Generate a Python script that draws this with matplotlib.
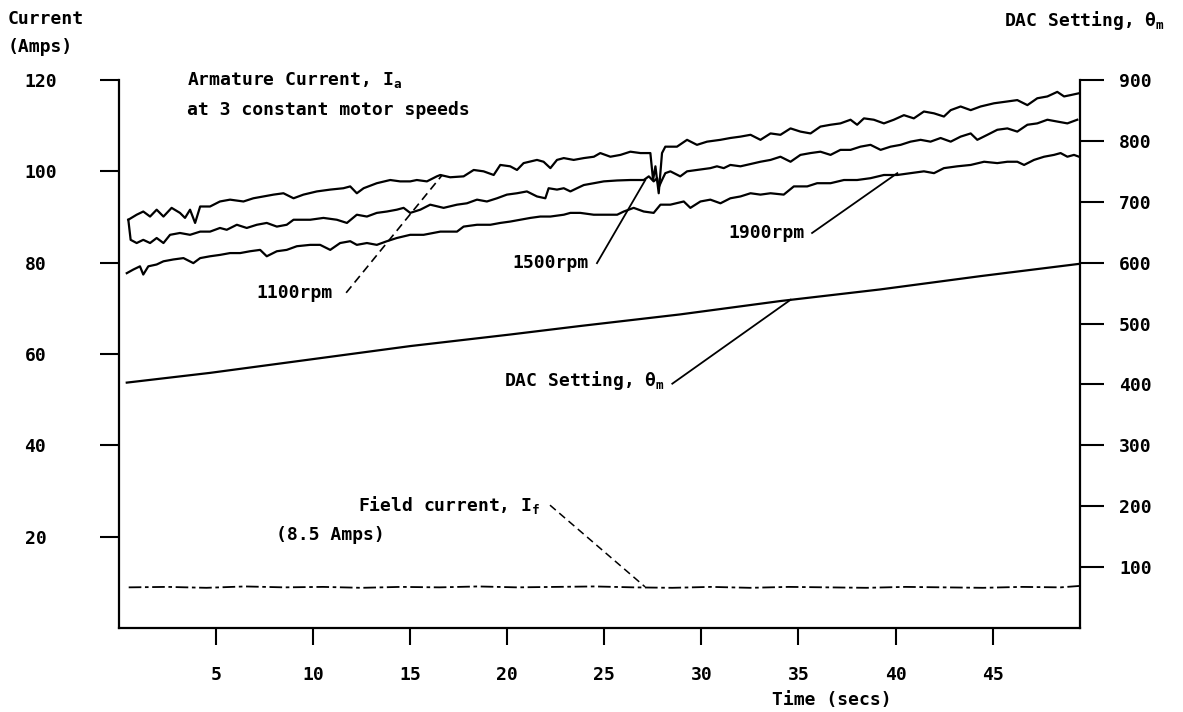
import matplotlib
matplotlib.use("Agg")
import matplotlib.pyplot as plt

plt.rcParams['font.family'] = ['DejaVu Sans Mono', 'DejaVu Sans']
plt.rcParams['font.weight'] = 'bold'
plt.rcParams['mathtext.default'] = 'regular'

# ---------------- data ----------------
x_ticks = [5, 10, 15, 20, 25, 30, 35, 40, 45]
y_ticks_left = [20, 40, 60, 80, 100, 120]
y_ticks_right = [100, 200, 300, 400, 500, 600, 700, 800, 900]

# Armature current at 1100 rpm (top curve)
t_1100 = [0.48, 0.91, 1.25, 1.6, 1.94, 2.29, 2.71, 3.14, 3.4, 3.66, 3.92, 4.18, 4.69, 5.2, 5.72,
          6.41, 6.92, 7.44, 7.96, 8.47, 8.99, 9.5, 10.19, 10.88, 11.56, 11.91, 12.25, 12.6, 13.28,
          13.97, 14.48, 15.0, 15.34, 15.86, 16.37,
          16.55, 17.06, 17.75, 18.27, 18.78, 19.3, 19.64, 20.15, 20.5, 20.84, 21.53, 21.87, 22.22,
          22.56, 22.91, 23.42, 23.94, 24.46, 24.79, 25.31, 25.83, 26.34, 26.86, 27.37, 27.51, 27.63,
          27.8, 27.97, 28.14, 28.74, 29.26, 29.77, 30.29, 30.98, 31.49, 32.01,
          32.53, 33.04, 33.56, 34.07, 34.59, 35.1, 35.62, 36.13, 36.65, 37.16, 37.68, 38.02, 38.37,
          38.88, 39.4, 39.91, 40.43, 40.94, 41.46, 41.98, 42.49, 42.84, 43.35, 43.87, 44.38, 45.07,
          45.76, 46.27, 46.79, 47.3, 47.82, 48.33, 48.68, 49.02, 49.45]
i_1100 = [89.4, 90.5, 91.2, 90.1, 91.6, 90.1, 92.0, 90.9, 89.8, 91.6, 88.7, 92.3, 92.3, 93.4, 93.8,
          93.4, 94.1, 94.5, 94.9, 95.2, 94.1, 94.9, 95.6, 96.0, 96.3, 96.7, 95.2, 96.3, 97.4,
          98.1, 97.8, 97.8, 98.1, 97.8, 98.9,
          99.2, 98.7, 98.9, 100.3, 100.0, 99.2, 101.4, 101.1, 100.3, 101.8, 102.5, 102.1, 100.7,
          102.5, 102.9, 102.5, 102.9, 103.2, 104.0, 103.2, 103.6, 104.3, 104.0, 104.0, 98.1, 101.1,
          95.2, 104.0, 105.4, 105.4, 106.9, 105.8, 106.5, 106.9, 107.3, 107.6,
          108.0, 106.9, 108.3, 108.0, 109.4, 108.7, 108.3, 109.8, 110.2, 110.5, 111.3, 110.2, 111.6,
          111.3, 110.5, 111.3, 112.3, 111.6, 113.1, 112.7, 112.0, 113.4, 114.2, 113.4, 114.2, 114.9,
          115.3, 115.6, 114.5, 116.0, 116.4, 117.4, 116.4, 116.7, 117.1]

# Armature current at 1500 rpm (middle curve)
t_1500 = [0.48, 0.6, 0.91, 1.25, 1.6, 1.94, 2.29, 2.63, 3.14, 3.66, 4.18, 4.69, 5.2, 5.55, 6.07,
          6.58, 7.1, 7.61, 8.13, 8.64, 8.99, 9.85, 10.53, 11.22, 11.74, 12.25, 12.77, 13.28, 13.8,
          14.31, 14.66, 15.0, 15.52, 16.03,
          16.72, 17.41, 17.92, 18.44, 18.95, 19.47, 19.98, 20.5, 21.01, 21.53, 21.96, 22.13, 22.56,
          22.91, 23.25, 23.59, 23.94, 24.46, 24.97, 25.66, 26.34, 27.03, 27.29, 27.54, 27.72, 27.8,
          27.97, 28.14, 28.4, 28.91, 29.26, 29.77, 30.46, 30.8, 31.15, 31.49, 32.01,
          32.53, 33.04, 33.56, 34.07, 34.59, 35.1, 35.62, 36.13, 36.65, 37.16, 37.68, 38.19, 38.71,
          39.23, 39.74, 40.26, 40.77, 41.29, 41.8, 42.32, 42.84, 43.35, 43.87, 44.21, 44.73, 45.24,
          45.76, 46.27, 46.79, 47.3, 47.82, 48.33, 48.85, 49.36]
i_1500 = [89.4, 85.0, 84.3, 85.0, 84.3, 85.4, 84.3, 86.1, 86.5, 86.1, 86.8, 86.8, 87.6, 87.2, 88.3,
          87.6, 88.3, 88.7, 87.9, 88.3, 89.4, 89.4, 89.8, 89.4, 88.7, 90.5, 90.1, 90.9, 91.2,
          91.6, 92.0, 90.9, 91.6, 92.7,
          92.0, 92.7, 93.0, 93.8, 93.4, 94.1, 94.9, 95.2, 95.6, 94.5, 94.1, 96.3, 96.0,
          96.3, 95.6, 96.3, 97.0, 97.4, 97.8, 98.0, 98.1, 98.1, 98.9, 97.8, 98.5, 96.5,
          98.1, 99.6, 100.0, 98.9, 100.0, 100.3, 100.7, 101.1, 100.7, 101.4, 101.1,
          101.6, 102.1, 102.5, 103.2, 102.1, 103.6, 104.0, 104.3, 103.6, 104.7, 104.7, 105.4, 105.8,
          104.7, 105.4, 105.8, 106.5, 106.9, 106.5, 107.3, 106.5, 107.6, 108.3, 106.9, 108.0, 109.1,
          109.4, 108.7, 110.2, 110.5, 111.3, 110.9, 110.5, 111.3]

# Armature current at 1900 rpm (bottom curve)
t_1900 = [0.4, 0.74, 1.08, 1.25, 1.51, 1.94, 2.29, 2.8, 3.32, 3.83, 4.18, 4.69, 5.2, 5.72, 6.24,
          6.75, 7.27, 7.61, 8.13, 8.64, 9.16, 9.85, 10.36, 10.88, 11.39, 11.91, 12.25, 12.77, 13.28,
          13.8, 14.31, 15.0, 15.69, 16.55,
          17.41, 17.75, 18.44, 19.13, 19.64, 20.15, 20.67, 21.19, 21.7, 22.22, 22.91, 23.25, 23.76,
          24.45, 24.97, 25.66, 26.0, 26.51, 27.03, 27.54, 27.89, 28.4, 29.09, 29.43, 29.95, 30.46,
          30.98, 31.49, 32.01,
          32.53, 33.04, 33.56, 34.24, 34.76, 35.45, 35.96, 36.65, 37.34, 38.02, 38.71, 39.4, 40.09,
          40.77, 41.46, 41.98, 42.49, 43.18, 43.87, 44.56, 45.24, 45.76, 46.27, 46.62, 47.13, 47.65,
          48.16, 48.5, 48.85, 49.19, 49.45]
i_1900 = [77.7, 78.5, 79.2, 77.4, 79.2, 79.6, 80.3, 80.7, 81.0, 79.9, 81.0, 81.4, 81.7, 82.1, 82.1,
          82.5, 82.8, 81.4, 82.5, 82.8, 83.6, 83.9, 83.9, 82.8, 84.3, 84.7, 83.9, 84.3, 83.9,
          84.7, 85.4, 86.1, 86.1, 86.8,
          86.8, 87.9, 88.3, 88.3, 88.7, 89.0, 89.4, 89.8, 90.1, 90.1, 90.5, 90.9, 90.9,
          90.5, 90.5, 90.5, 91.2, 92.0, 91.2, 90.9, 92.7, 92.7, 93.4, 92.0, 93.4, 93.8,
          93.0, 94.1, 94.5,
          95.2, 94.9, 95.2, 94.9, 96.7, 96.7, 97.4, 97.4, 98.1, 98.1, 98.5, 99.2, 99.2,
          99.6, 100.0, 99.6, 100.7, 101.1, 101.4, 102.1, 101.8, 102.1, 102.1, 101.4, 102.5, 103.2,
          103.6, 104.0, 103.2, 103.6, 103.2]

# DAC setting (right axis)
t_dac = [0.4, 4.69, 9.85, 15.0, 20.15, 23.76, 28.9, 34.07, 39.2, 44.4, 49.45]
dac = [403, 419, 441, 463, 482, 496, 515, 537, 556, 578, 598]

# Field current
t_field = [0.5, 2.5, 4.5, 6.5, 8.5, 10.5, 12.5, 14.5, 16.5, 18.5, 20.5, 22.5, 24.5, 26.5, 28.5,
           30.5, 32.5, 34.5, 36.5, 38.5, 40.5, 42.5, 44.5, 46.5, 48.5, 49.45]
i_field = [8.9, 9.0, 8.8, 9.1, 8.9, 9.0, 8.8, 9.0, 8.9, 9.1, 8.9, 9.0, 9.1, 8.9, 8.8,
           9.0, 8.8, 9.0, 8.9, 8.8, 9.0, 8.9, 8.8, 9.0, 8.9, 9.2]

# leader lines (t, current) start -> end
leader_1100 = [(11.7, 16.65), (73.4, 99.2)]
leader_1500 = [(24.62, 27.11), (79.9, 98.1)]
leader_1900 = [(35.7, 40.09), (86.5, 99.6)]
leader_dac = [(28.5, 34.6), (53.5, 71.9)]
leader_field = [(22.2, 27.1), (26.9, 9.0)]

# ---------------- figure ----------------
W, H = 1183, 712
fig = plt.figure(figsize=(W / 100, H / 100), dpi=100)
ax = fig.add_axes([119 / W, 1 - 628 / H, (1080 - 119) / W, (628 - 80) / H])
ax.set_xlim(0, 49.5)
ax.set_ylim(0, 120)
ax2 = ax.twinx()
ax2.set_ylim(0, 900)

lw = 1.6
k = 'black'
ax.plot(t_1100, i_1100, color=k, lw=lw)
ax.plot(t_1500, i_1500, color=k, lw=lw)
ax.plot(t_1900, i_1900, color=k, lw=lw)
ax2.plot(t_dac, dac, color=k, lw=lw)
ax.plot(t_field, i_field, color=k, lw=1.3, dashes=(7, 2, 2, 2))

ax.plot(*leader_1100, color=k, lw=1.2, dashes=(5, 3))
ax.plot(*leader_1500, color=k, lw=1.3)
ax.plot(*leader_1900, color=k, lw=1.3)
ax.plot(*leader_dac, color=k, lw=1.3)
ax.plot(*leader_field, color=k, lw=1.1, dashes=(5, 3))

for s in ['top', 'right']:
    ax.spines[s].set_visible(False)
for s in ['top', 'left', 'bottom']:
    ax2.spines[s].set_visible(False)
for sp in [ax.spines['left'], ax.spines['bottom'], ax2.spines['right']]:
    sp.set_linewidth(1.6)

fs = 13
ax.set_xticks(x_ticks)
ax.set_xticklabels([str(v) for v in x_ticks])
ax.tick_params(axis='x', direction='out', length=12, width=1.5, pad=15, labelsize=fs)
ax.set_yticks(y_ticks_left)
ax.set_yticklabels([str(v) for v in y_ticks_left])
ax.tick_params(axis='y', direction='out', length=14, width=1.5, pad=54, labelsize=fs)
for lab in ax.get_yticklabels():
    lab.set_horizontalalignment('left')
ax2.set_yticks(y_ticks_right)
ax2.set_yticklabels([str(v) for v in y_ticks_right])
ax2.tick_params(axis='y', direction='out', length=17, width=1.5, pad=11, labelsize=fs)


def txt(x, y, s, ha='left'):
    fig.text(x / W, 1 - y / H, s, ha=ha, va='center', fontsize=fs, fontweight='bold')


txt(8, 19, 'Current')
txt(8, 47, '(Amps)')
txt(1165, 20, r'DAC Setting, $θ_m$', ha='right')
txt(187, 80, r'Armature Current, $I_a$')
txt(187, 110, 'at 3 constant motor speeds')
txt(332, 293, '1100rpm', ha='right')
txt(588, 263, '1500rpm', ha='right')
txt(805, 233, '1900rpm', ha='right')
txt(665, 380, r'DAC Setting, $θ_m$', ha='right')
txt(540, 505, r'Field current, $I_f$', ha='right')
txt(330, 535, '(8.5 Amps)', ha='center')
txt(832, 700, 'Time (secs)', ha='center')

fig.savefig('out.png', dpi=100)
